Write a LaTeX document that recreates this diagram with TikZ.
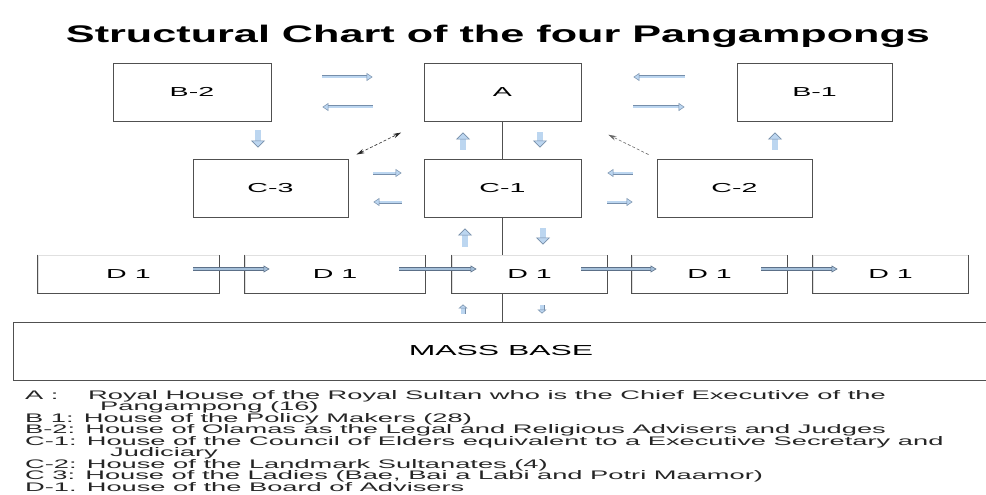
\documentclass[tikz,border=0pt]{standalone}
\usepackage{fontspec}
\setmainfont{Liberation Sans}[FakeStretch=2.2]
\newfontfamily\titlefont{Liberation Sans}[FakeStretch=1.8]
\usetikzlibrary{arrows.meta,calc}
\definecolor{boxLine}{RGB}{80,80,80}
\definecolor{arrEdge}{RGB}{118,142,170}
\definecolor{arrFill}{RGB}{188,214,240}
\definecolor{dEdge}{RGB}{92,112,136}
\definecolor{dFill}{RGB}{165,192,218}
\lineskiplimit=-20pt
\tikzset{
    house/.style={rectangle,draw=boxLine,line width=0.9pt,fill=white,inner sep=0pt,
        minimum height=58pt,font=\fontsize{13}{15}\selectfont},
    dhouse/.style={house,draw=black!12,minimum height=38pt},
    side/.style={draw=boxLine,line width=0.9pt},
    flow/.style={draw=arrEdge,double=arrFill,line width=0.5pt,double distance=2pt,
        -{Triangle[length=6pt,width=8pt,line width=0.5pt,fill=arrFill]}},
    bigflow/.style={draw=arrEdge,double=arrFill,line width=0.6pt,double distance=5.5pt,
        -{Triangle[length=7pt,width=14pt,line width=0.6pt,fill=arrFill]}},
    tinyflow/.style={draw=arrEdge,double=arrFill,line width=0.5pt,double distance=4pt,
        -{Triangle[length=4pt,width=9pt,line width=0.5pt,fill=arrFill]}},
    dflow/.style={draw=dEdge,double=dFill,line width=0.7pt,double distance=2.2pt,
        -{Triangle[length=6pt,width=7pt,line width=0.6pt,fill=dFill]}},
    link/.style={draw=black!85,line width=0.6pt,dash pattern=on 3pt off 2pt}
}

\begin{document}
\begin{tikzpicture}[x=1pt,y=-1pt]
    \useasboundingbox[fill=white] (0,0) rectangle (986,495);

    \node[anchor=base,font=\titlefont\bfseries\fontsize{24}{28}\selectfont] (title) at (498,43)
        {Structural Chart of the four Pangampongs};

    % houses
    \node[house,minimum width=158pt] (b2) at (192,92) {B-2};
    \node[house,minimum width=157pt] (a) at (502.5,92) {A};
    \node[house,minimum width=155pt] (b1) at (814.5,92) {B-1};
    \node[house,minimum width=155pt] (c3) at (270.5,188) {C-3};
    \node[house,minimum width=157pt] (c1) at (502.5,188) {C-1};
    \node[house,minimum width=155pt] (c2) at (734.5,188) {C-2};
    \foreach \n/\x/\w in {d1/128.5/181,d2/335/180,d3/529.5/155,d4/709.5/155,d5/890.5/155}
        \node[dhouse,minimum width=\w pt] (\n) at (\x,274) {D 1};
    \foreach \n in {d1,d2,d3,d4,d5}
        \draw[side] (\n.north west) -- (\n.south west) -- (\n.south east) -- (\n.north east);
    \node[house,minimum width=976pt,font=\fontsize{14.5}{16}\selectfont] (mass) at (501,351) {MASS BASE};

    % spine
    \draw[side] (a.south) -- (c1.north);
    \draw[side] (c1.south) -- (c1.south |- d3.north);
    \draw[side] (c1.south |- d3.south) -- (c1.south |- mass.north);

    % top row
    \draw[flow,shorten <=51pt,shorten >=51pt] ($(b2.east)+(0,-15)$) -- ($(a.west)+(0,-15)$);
    \draw[flow,shorten <=51pt,shorten >=51pt] ($(a.west)+(0,15)$) -- ($(b2.east)+(0,15)$);
    \draw[flow,shorten <=52pt,shorten >=52pt] ($(b1.west)+(0,-15)$) -- ($(a.east)+(0,-15)$);
    \draw[flow,shorten <=52pt,shorten >=52pt] ($(a.east)+(0,15)$) -- ($(b1.west)+(0,15)$);
    % middle row
    \draw[flow,shorten <=25pt,shorten >=22pt] ($(c3.east)+(0,-15)$) -- ($(c1.west)+(0,-15)$);
    \draw[flow,shorten <=22pt,shorten >=25pt] ($(c1.west)+(0,14)$) -- ($(c3.east)+(0,14)$);
    \draw[flow,shorten <=24pt,shorten >=26pt] ($(c2.west)+(0,-15)$) -- ($(c1.east)+(0,-15)$);
    \draw[flow,shorten <=26pt,shorten >=24pt] ($(c1.east)+(0,14)$) -- ($(c2.west)+(0,14)$);

    % up and down
    \draw[bigflow,shorten <=9pt,shorten >=11pt] ($(b2.south)+(66,0)$) -- ($(c3.north)+(-12.5,0)$);
    \draw[bigflow,shorten <=9pt,shorten >=11pt] ($(c1.north)+(-39.5,0)$) -- ($(a.south)+(-39.5,0)$);
    \draw[bigflow,shorten <=11pt,shorten >=11pt] ($(a.south)+(37.5,0)$) -- ($(c1.north)+(37.5,0)$);
    \draw[bigflow,shorten <=9pt,shorten >=11pt] ($(c2.north)+(40.5,0)$) -- ($(c2.north |- b1.south)+(40.5,0)$);
    \draw[bigflow,shorten <=8pt,shorten >=11pt] ($(c1.south |- d3.north)+(-37.5,0)$) -- ($(c1.south)+(-37.5,0)$);
    \draw[bigflow,shorten <=11pt,shorten >=10pt] ($(c1.south)+(40.5,0)$) -- ($(c1.south |- d3.north)+(40.5,0)$);
    \draw[tinyflow,shorten <=8pt,shorten >=11pt] ($(mass.north -| c1.south)+(-39.5,0)$) -- ($(d3.south -| c1.south)+(-39.5,0)$);
    \draw[tinyflow,shorten <=12pt,shorten >=8pt] ($(d3.south -| c1.south)+(39.5,0)$) -- ($(mass.north -| c1.south)+(39.5,0)$);

    % board of advisers row
    \foreach \p/\q in {d1/d2,d2/d3,d3/d4,d4/d5}
        \draw[dflow] ($(\p.east)+(-26,-5)$) -- ($(\q.west)+(25,-5)$);

    % dashed links
    \draw[link,{Stealth[length=8pt,width=4.5pt]}-{Stealth[length=8pt,width=4.5pt]},shorten <=9pt,shorten >=25pt]
        (c3.north east) -- (a.south west);
    \draw[link,draw=black!60,-{Stealth[length=8pt,width=4.5pt]},shorten <=9pt,shorten >=30pt]
        (c2.north west) -- (a.south east);

    \node[anchor=north west,inner sep=0pt,align=left,text=black!85,font=\fontsize{12.4}{11.5}\selectfont] (legend) at (25,390)
        {\makebox[63pt][l]{A :}Royal House of the Royal Sultan who is the Chief Executive of the\\
         \hspace*{75pt}Pangampong (16)\\
         B 1: House of the Policy Makers (28)\\
         B-2: House of Olamas as the Legal and Religious Advisers and Judges\\
         C-1: House of the Council of Elders equivalent to a Executive Secretary and\\
         \hspace*{85pt}Judiciary\\
         C-2: House of the Landmark Sultanates (4)\\
         C 3: House of the Ladies (Bae, Bai a Labi and Potri Maamor)\\
         D-1. House of the Board of Advisers};
\end{tikzpicture}
\end{document}
